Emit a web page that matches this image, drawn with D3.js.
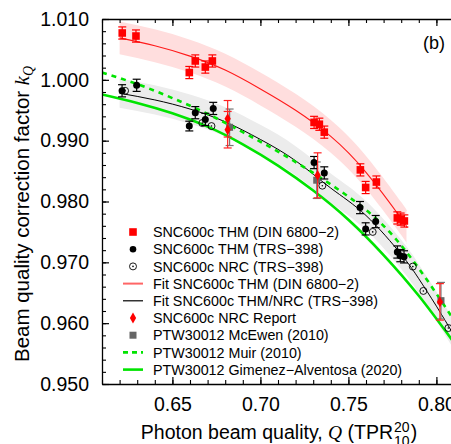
<!DOCTYPE html>
<html>
<head>
<meta charset="utf-8">
<script src="https://cdn.jsdelivr.net/npm/d3@7"></script>
<style>
body { margin: 0; background: #fff; }
svg { display: block; font-family: "Liberation Sans", Arial, sans-serif; }
</style>
</head>
<body>
<script>
"use strict";

// Measured points: [TPR20,10, kQ, uncertainty]
var thmDin = [
    [0.6215, 1.0077, 0.0010], [0.6293, 1.0072, 0.0010],
    [0.6596, 1.0012, 0.0010], [0.6630, 1.0031, 0.0010],
    [0.6687, 1.0021, 0.0010], [0.6727, 1.0031, 0.0010],
    [0.7305, 0.9930, 0.0010], [0.7335, 0.9927, 0.0010],
    [0.7363, 0.9914, 0.0010], [0.7568, 0.9852, 0.0010],
    [0.7598, 0.9823, 0.0010], [0.7659, 0.9832, 0.0010],
    [0.7778, 0.9773, 0.0010], [0.7797, 0.9771, 0.0010],
    [0.7818, 0.9768, 0.0010]
];
var thmTrs = [
    [0.6214, 0.9982, 0.0010], [0.6297, 0.9991, 0.0010],
    [0.6596, 0.9924, 0.0008], [0.6630, 0.9946, 0.0010],
    [0.6687, 0.9935, 0.0010], [0.6732, 0.9953, 0.0010],
    [0.7305, 0.9864, 0.0010], [0.7363, 0.9847, 0.0010],
    [0.7566, 0.9790, 0.0010], [0.7598, 0.9755, 0.0010],
    [0.7655, 0.9767, 0.0010], [0.7778, 0.9717, 0.0010],
    [0.7795, 0.9711, 0.0010], [0.7816, 0.9709, 0.0010]
];
var nrcTrs = [
    [0.6231, 0.9982], [0.6670, 0.9929], [0.6722, 0.9924], [0.7352, 0.9826],
    [0.7638, 0.9750], [0.7866, 0.9693], [0.7926, 0.9653], [0.8068, 0.9592]
];
var nrcReport = [
    [0.6814, 0.9936, 0.0030], [0.6814, 0.9918, 0.0030],
    [0.7325, 0.9843, 0.0037], [0.8020, 0.9635, 0.0030]
];
var mcEwen = [
    [0.6825, 0.9922, 0.0030], [0.7320, 0.9835, 0.0030], [0.8026, 0.9637, 0.0030]
];

// Curves: [TPR20,10, kQ]
var fitDin = [
    [0.620, 1.0069], [0.640, 1.0056], [0.660, 1.0039], [0.680, 1.0016],
    [0.700, 0.9985], [0.720, 0.9950], [0.740, 0.9907], [0.760, 0.9848],
    [0.780, 0.9772], [0.783, 0.9758]
];
var fitTrs = [
    [0.620, 0.9978], [0.640, 0.9967], [0.660, 0.9952], [0.680, 0.9931],
    [0.700, 0.9902], [0.720, 0.9867], [0.740, 0.9822], [0.760, 0.9777],
    [0.780, 0.9713], [0.790, 0.9673], [0.800, 0.9628], [0.810, 0.9580]
];
var muir = [
    [0.610, 1.0012], [0.630, 0.9993], [0.650, 0.9970], [0.670, 0.9944],
    [0.690, 0.9914], [0.710, 0.9882], [0.730, 0.9847], [0.750, 0.9808],
    [0.770, 0.9760], [0.790, 0.9690], [0.810, 0.9605]
];
var gimenez = [
    [0.610, 0.9976], [0.630, 0.9962], [0.650, 0.9945], [0.670, 0.9923],
    [0.690, 0.9894], [0.710, 0.9859], [0.730, 0.9818], [0.750, 0.9770],
    [0.770, 0.9712], [0.790, 0.9645], [0.810, 0.9568]
];
var bandDin = 0.0027;   // half width of the shaded uncertainty bands
var bandTrs = 0.0024;

var xTicks = [0.65, 0.70, 0.75, 0.80];
var yTicks = [0.95, 0.96, 0.97, 0.98, 0.99, 1.00, 1.01];

var legendLabels = [
    "SNC600c THM (DIN 6800\u22122)",
    "SNC600c THM (TRS\u2212398)",
    "SNC600c NRC (TRS\u2212398)",
    "Fit SNC600c THM (DIN 6800\u22122)",
    "Fit SNC600c THM/NRC (TRS\u2212398)",
    "SNC600c NRC Report",
    "PTW30012 McEwen (2010)",
    "PTW30012 Muir (2010)",
    "PTW30012 Gimenez\u2212Alventosa (2020)"
];

var W = 451, H = 444;
var margin = { left: 102, top: 19, bottom: 60 };
var green = "#00e400";
var tickFont = 19.5;

var svg = d3.select("body").append("svg")
    .attr("width", W)
    .attr("height", H);

var x = d3.scaleLinear().domain([0.61, 0.81]).range([margin.left, margin.left + 352]);
var y = d3.scaleLinear().domain([0.95, 1.01]).range([H - margin.bottom, margin.top]);

svg.append("clipPath").attr("id", "plotClip")
  .append("rect")
    .attr("x", margin.left).attr("y", margin.top)
    .attr("width", W - margin.left).attr("height", y(0.95) - margin.top);

var plot = svg.append("g").attr("clip-path", "url(#plotClip)");

function band(data, w) {
    return d3.area()
        .x(function (d) { return x(d[0]); })
        .y0(function (d) { return y(d[1] - w); })
        .y1(function (d) { return y(d[1] + w); })
        .curve(d3.curveNatural)(data);
}
var line = d3.line()
    .x(function (d) { return x(d[0]); })
    .y(function (d) { return y(d[1]); })
    .curve(d3.curveNatural);

plot.append("path").attr("d", band(fitDin, bandDin)).attr("fill", "#ffdede");
plot.append("path").attr("d", band(fitTrs, bandTrs)).attr("fill", "#ececec");

plot.append("path").attr("d", line(fitDin))
    .attr("fill", "none").attr("stroke", "#ff1a1a").attr("stroke-width", 1.1);
plot.append("path").attr("d", line(fitTrs))
    .attr("fill", "none").attr("stroke", "#000").attr("stroke-width", 1);
plot.append("path").attr("d", line(muir))
    .attr("fill", "none").attr("stroke", green).attr("stroke-width", 2.6)
    .attr("stroke-dasharray", "5,5");
plot.append("path").attr("d", line(gimenez))
    .attr("fill", "none").attr("stroke", green).attr("stroke-width", 2.6);

function errorBars(data, color) {
    var g = plot.append("g").attr("stroke", color).attr("stroke-width", 1.2);
    data.forEach(function (d) {
        var cx = x(d[0]), hi = y(d[1] + d[2]), lo = y(d[1] - d[2]);
        g.append("line").attr("x1", cx).attr("x2", cx).attr("y1", hi).attr("y2", lo);
        g.append("line").attr("x1", cx - 4).attr("x2", cx + 4).attr("y1", hi).attr("y2", hi);
        g.append("line").attr("x1", cx - 4).attr("x2", cx + 4).attr("y1", lo).attr("y2", lo);
    });
}

errorBars(mcEwen, "#777");
plot.selectAll("rect.mcewen").data(mcEwen).enter().append("rect")
    .attr("x", function (d) { return x(d[0]) - 3.5; })
    .attr("y", function (d) { return y(d[1]) - 3.5; })
    .attr("width", 7).attr("height", 7).attr("fill", "#666");

errorBars(thmDin, "#f00");
plot.selectAll("rect.din").data(thmDin).enter().append("rect")
    .attr("x", function (d) { return x(d[0]) - 3.8; })
    .attr("y", function (d) { return y(d[1]) - 3.8; })
    .attr("width", 7.6).attr("height", 7.6).attr("fill", "#f00");

errorBars(thmTrs, "#000");
plot.selectAll("circle.trs").data(thmTrs).enter().append("circle")
    .attr("cx", function (d) { return x(d[0]); })
    .attr("cy", function (d) { return y(d[1]); })
    .attr("r", 3.5).attr("fill", "#000");

plot.selectAll("circle.nrc").data(nrcTrs).enter().append("circle")
    .attr("cx", function (d) { return x(d[0]); })
    .attr("cy", function (d) { return y(d[1]); })
    .attr("r", 3.5).attr("fill", "none").attr("stroke", "#000").attr("stroke-width", 0.9);
plot.selectAll("circle.nrcdot").data(nrcTrs).enter().append("circle")
    .attr("cx", function (d) { return x(d[0]); })
    .attr("cy", function (d) { return y(d[1]); })
    .attr("r", 0.8).attr("fill", "#000");

errorBars(nrcReport, "#f22");
var diamond = d3.symbol().type(d3.symbolDiamond).size(34);
plot.selectAll("path.report").data(nrcReport).enter().append("path")
    .attr("d", diamond)
    .attr("transform", function (d) { return "translate(" + x(d[0]) + "," + y(d[1]) + ")"; })
    .attr("fill", "#f00");

// Axes: inward ticks, majors with labels, minors without
function styleAxis(g) {
    g.select(".domain").attr("stroke-width", 1.3);
    g.selectAll(".tick line").attr("stroke-width", 1.2);
    g.selectAll(".tick text").style("font-size", tickFont + "px").attr("fill", "#000")
        .style("font-family", "'Liberation Sans', Arial, sans-serif");
}
function minorStyle(g) {
    g.select(".domain").remove();
    g.selectAll("line").attr("stroke-width", 1.1);
}
var yMinor = d3.range(0, 31).map(function (i) { return 0.95 + i * 0.002; });
var xMinor = d3.range(0, 21).map(function (i) { return 0.61 + i * 0.01; });

svg.append("g").attr("transform", "translate(" + margin.left + ",0)")
    .call(d3.axisLeft(y).tickValues(yMinor).tickSize(-4).tickSizeOuter(0).tickFormat(""))
    .call(minorStyle);
svg.append("g").attr("transform", "translate(" + margin.left + ",0)")
    .call(d3.axisLeft(y).tickValues(yTicks).tickSize(-7).tickSizeOuter(0)
        .tickPadding(13).tickFormat(d3.format(".3f")))
    .call(styleAxis);

svg.append("g").attr("transform", "translate(0," + y(0.95) + ")")
    .call(d3.axisBottom(x).tickValues(xMinor).tickSize(-4).tickSizeOuter(0).tickFormat(""))
    .call(minorStyle);
svg.append("g").attr("transform", "translate(0," + y(0.95) + ")")
    .call(d3.axisBottom(x).tickValues(xTicks).tickSize(-7).tickSizeOuter(0)
        .tickPadding(13).tickFormat(d3.format(".2f")))
    .call(styleAxis);

svg.append("g").attr("transform", "translate(0," + margin.top + ")")
    .call(d3.axisTop(x).tickValues(xMinor).tickSize(-4).tickSizeOuter(0).tickFormat(""))
    .call(minorStyle);
svg.append("g").attr("transform", "translate(0," + margin.top + ")")
    .call(d3.axisTop(x).tickValues(xTicks).tickSize(-7).tickSizeOuter(0).tickFormat(""))
    .call(styleAxis);

svg.append("text")
    .attr("x", 445).attr("y", 49)
    .attr("text-anchor", "end")
    .style("font-size", "18px")
    .text("(b)");

// Axis titles
var xTitle = svg.append("g");
var xMain = xTitle.append("text").style("font-size", "19.5px");
xMain.append("tspan").text("Photon beam quality, ");
xMain.append("tspan").style("font-family", "'Liberation Serif', serif").style("font-style", "italic").text("Q");
xMain.append("tspan").text(" (TPR");
var mainW = xMain.node().getComputedTextLength();
var sup = xTitle.append("text").attr("x", mainW + 1).attr("y", -7).style("font-size", "14px").text("20");
var sub = xTitle.append("text").attr("x", mainW + 1).attr("y", 7).style("font-size", "14px").text("10");
var stackW = Math.max(sup.node().getComputedTextLength(), sub.node().getComputedTextLength());
var close = xTitle.append("text").attr("x", mainW + stackW + 2).style("font-size", "19.5px").text(")");
var totalW = mainW + stackW + 2 + close.node().getComputedTextLength();
xTitle.attr("transform", "translate(" + (279 - totalW / 2) + ",439)");

var yTitle = svg.append("text")
    .attr("transform", "translate(29,214) rotate(-90)")
    .attr("text-anchor", "middle")
    .style("font-size", "20.5px");
yTitle.append("tspan").text("Beam quality correction factor ");
yTitle.append("tspan").style("font-family", "'Liberation Serif', serif").style("font-style", "italic").text("k");
yTitle.append("tspan").attr("dy", 4).style("font-family", "'Liberation Serif', serif")
    .style("font-style", "italic").style("font-size", "14px").text("Q");

// Legend
var legend = svg.append("g").attr("transform", "translate(133,232)");
var rowH = 17.2;
legendLabels.forEach(function (label, i) {
    var row = legend.append("g").attr("transform", "translate(0," + (i * rowH) + ")");
    if (i === 0) {
        row.append("rect").attr("x", -3.8).attr("y", -3.8).attr("width", 7.6).attr("height", 7.6).attr("fill", "#f00");
    } else if (i === 1) {
        row.append("circle").attr("r", 3.3).attr("fill", "#000");
    } else if (i === 2) {
        row.append("circle").attr("r", 3.5).attr("fill", "none").attr("stroke", "#000").attr("stroke-width", 0.9);
        row.append("circle").attr("r", 0.8).attr("fill", "#000");
    } else if (i === 3) {
        row.append("line").attr("x1", -10).attr("x2", 10).attr("stroke", "#ff6666").attr("stroke-width", 2);
    } else if (i === 4) {
        row.append("line").attr("x1", -10).attr("x2", 10).attr("stroke", "#000").attr("stroke-width", 1.2);
    } else if (i === 5) {
        row.append("path").attr("d", diamond).attr("fill", "#f00");
    } else if (i === 6) {
        row.append("rect").attr("x", -3.5).attr("y", -3.5).attr("width", 7).attr("height", 7).attr("fill", "#666");
    } else if (i === 7) {
        row.append("line").attr("x1", -10).attr("x2", 10).attr("stroke", green).attr("stroke-width", 2.6)
            .attr("stroke-dasharray", "5,4");
    } else {
        row.append("line").attr("x1", -10).attr("x2", 10).attr("stroke", green).attr("stroke-width", 2.6);
    }
    row.append("text")
        .attr("x", 20).attr("dy", "0.36em")
        .style("font-size", "14.3px")
        .text(label);
});
</script>
</body>
</html>
